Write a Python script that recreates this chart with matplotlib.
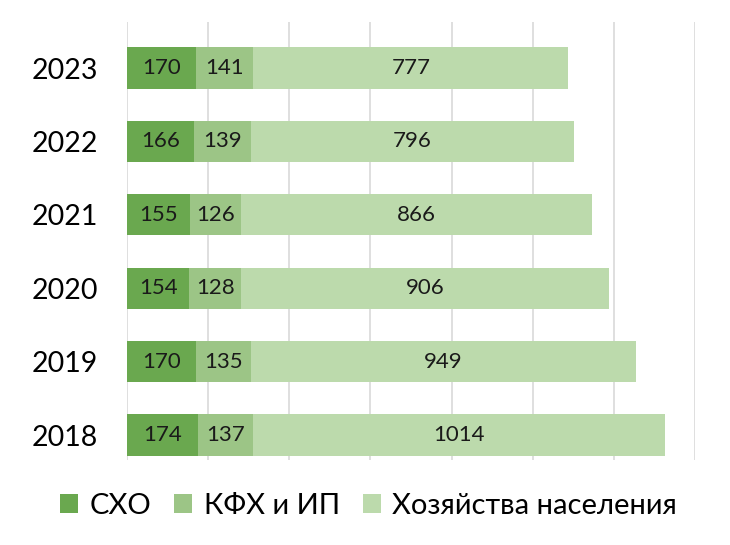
import matplotlib
matplotlib.use('Agg')
import matplotlib.pyplot as plt
import numpy as np

plt.rcParams['font.family'] = ['Lato', 'DejaVu Sans']

years = ['2018', '2019', '2020', '2021', '2022', '2023']
sho = [174, 170, 154, 155, 166, 170]
kfh = [137, 135, 128, 126, 139, 141]
hoz = [1014, 949, 906, 866, 796, 777]
series_names = ['СХО', 'КФХ и ИП', 'Хозяйства населения']
colors = ['#6aa84f', '#9cc586', '#bcdaac']

fig = plt.figure(figsize=(7.3, 5.45), dpi=100)
ax = fig.add_axes([0.174, 0.156, 0.778, 0.804])

y = np.arange(len(years))
left = np.zeros(len(years))
for vals, name, c in zip([sho, kfh, hoz], series_names, colors):
    bars = ax.barh(y, vals, left=left, height=0.56, color=c, label=name, zorder=2)
    ax.bar_label(bars, labels=[str(v) for v in vals], label_type='center',
                 fontsize=16, color='#1a1a1a')
    left = left + np.array(vals)

ax.set_xlim(0, 1400)
ax.set_ylim(-0.34, 5.63)
ax.set_xticks(np.arange(0, 1401, 200))
ax.xaxis.grid(True, color='#d9d9d9', linewidth=1.2, zorder=0)
ax.tick_params(axis='x', length=0, labelbottom=False)
ax.tick_params(axis='y', length=0, labelsize=20.5, pad=21)
ax.set_yticks(y)
ax.set_yticklabels(years)
for s in ax.spines.values():
    s.set_visible(False)

fig.legend(loc='center', bbox_to_anchor=(0.505, 0.072), ncol=3, frameon=False,
           fontsize=21, handlelength=0.6, handleheight=0.6, handletextpad=0.4,
           columnspacing=0.8)

fig.savefig('out.png', dpi=100)
